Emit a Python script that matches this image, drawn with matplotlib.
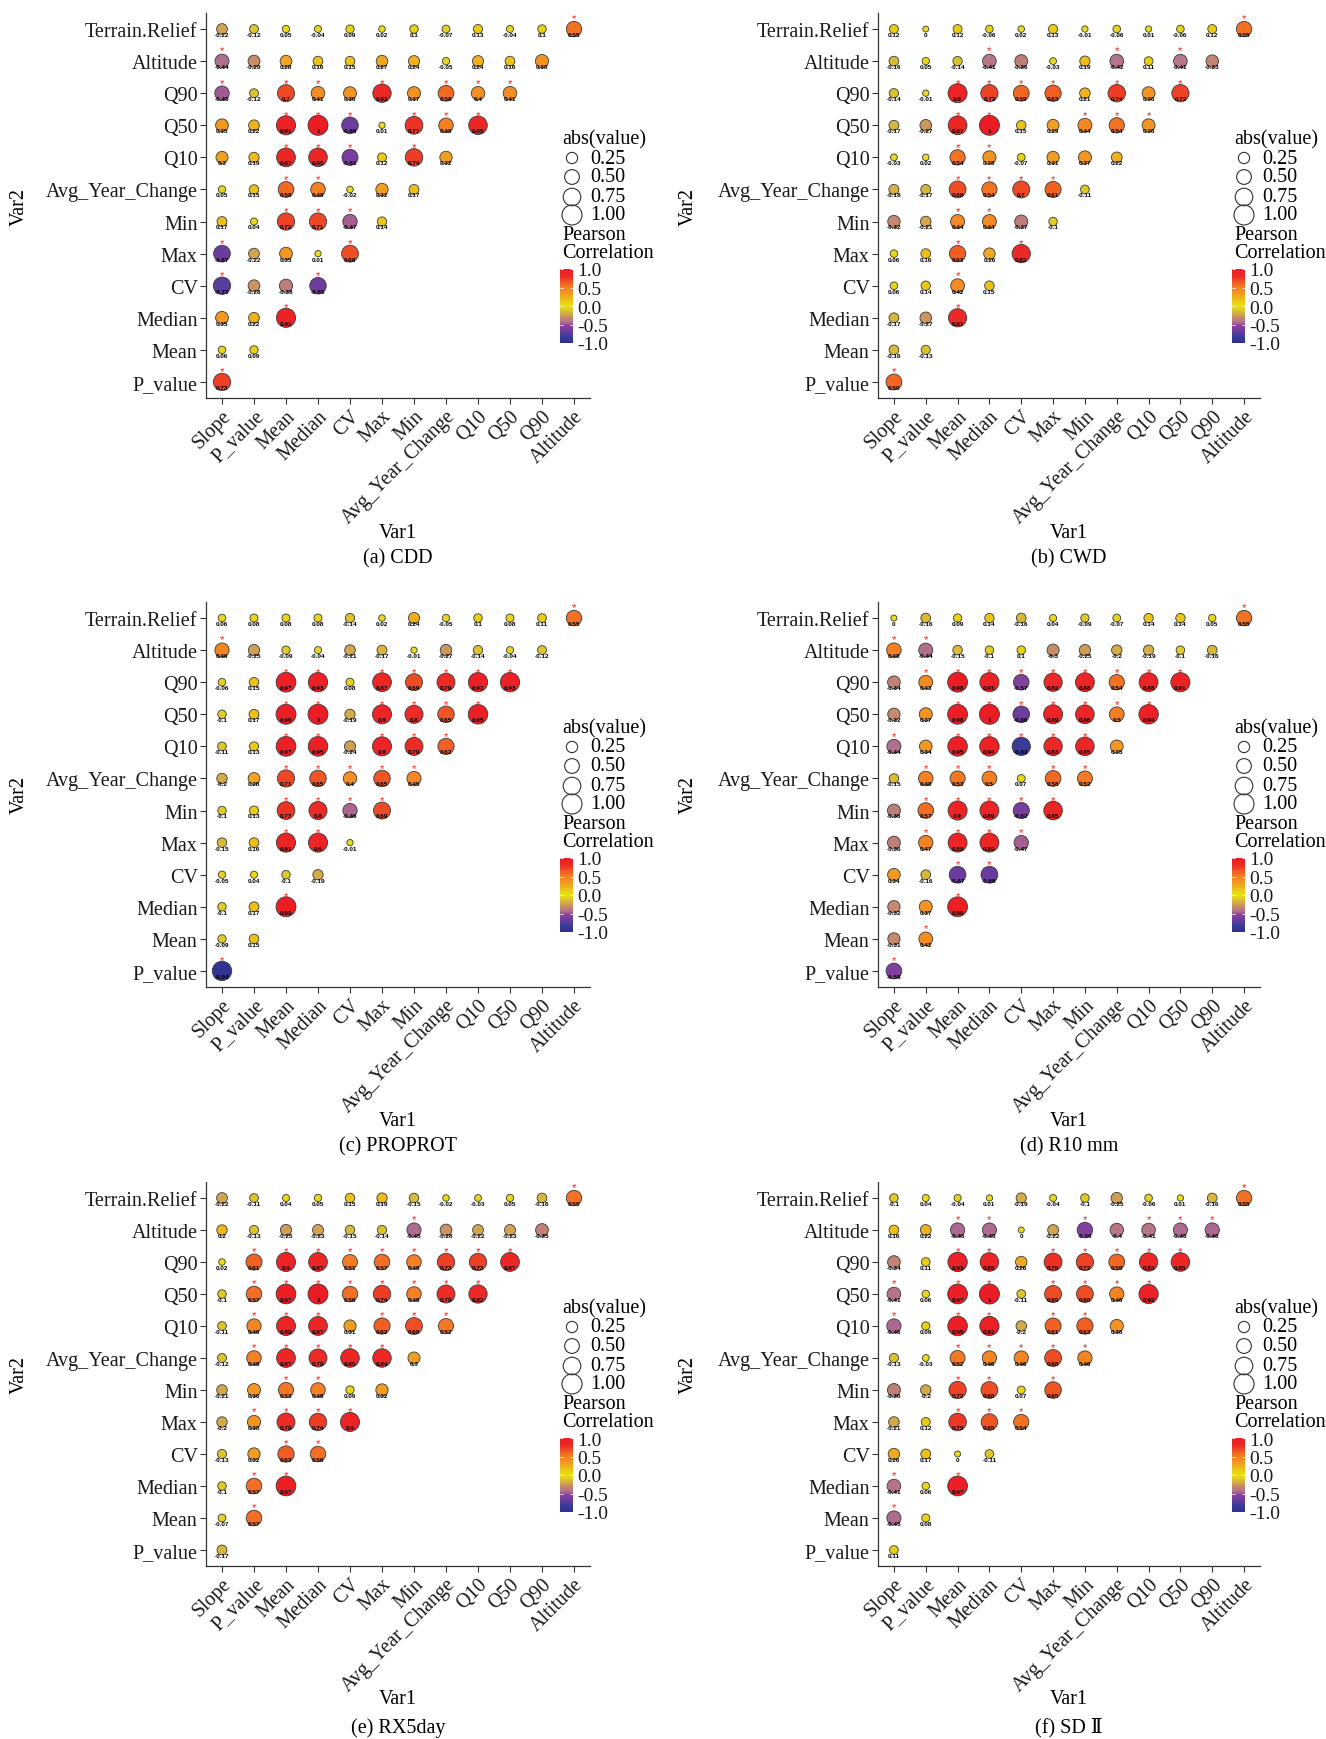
import matplotlib
matplotlib.use("Agg")
import matplotlib.pyplot as plt
from matplotlib.colors import LinearSegmentedColormap, Normalize
from matplotlib.cm import ScalarMappable

W, H = 1326, 1740

var1_labels = ["Slope", "P_value", "Mean", "Median", "CV", "Max", "Min",
               "Avg_Year_Change", "Q10", "Q50", "Q90", "Altitude"]
# bottom to top
var2_labels = ["P_value", "Mean", "Median", "CV", "Max", "Min", "Avg_Year_Change",
               "Q10", "Q50", "Q90", "Altitude", "Terrain.Relief"]

# rows from Terrain.Relief (top) down to P_value, "*" marks significance
cdd_rows = [
    "-0.22 -0.12 0.05 -0.04 0.09 0.02 0.1 -0.07 0.13 -0.04 0.1 0.55*",
    "-0.44* -0.29 0.28 0.16 0.15 0.27 0.24 -0.05 0.24 0.16 0.38",
    "-0.48* -0.12 0.7* 0.41* 0.36 0.83* 0.37 0.58* 0.4* 0.41*",
    "0.35 0.22 0.91* 1* -0.66* 0.01 0.77* 0.48* 0.85*",
    "0.3 0.19 0.87* 0.85* -0.61* 0.12 0.74* 0.32",
    "0.05 0.15 0.58* 0.48* -0.02 0.32 0.17",
    "0.17 0.04 0.72* 0.71* -0.47* 0.14",
    "-0.67* -0.22 0.35 0.01 0.68*",
    "-0.73* -0.28 -0.38 -0.65*",
    "0.35 0.22 0.91*",
    "0.06 0.09",
    "0.73*",
]
cwd_rows = [
    "0.12 0 0.12 -0.06 0.02 0.13 -0.01 -0.06 0.01 -0.06 0.12 0.55*",
    "-0.16 0.05 -0.14 -0.41* -0.36 -0.03 0.19 -0.42* 0.11 -0.41* -0.33",
    "-0.14 -0.01 0.9* 0.72* 0.59* 0.63* 0.21 0.74* 0.36 0.72*",
    "-0.17 -0.27 0.87* 1* 0.15 0.29 0.44* 0.54* 0.36*",
    "-0.03 0.02 0.54* 0.38* -0.07 0.31 0.37 0.22",
    "-0.18 -0.17 0.68* 0.54* 0.7* 0.61* -0.11",
    "-0.32 -0.21 0.44* 0.44* -0.37 -0.1",
    "0.06 0.16 0.63* 0.26 0.82*",
    "0.06 0.14 0.42* 0.15",
    "-0.17 -0.27 0.81*",
    "-0.16 -0.13",
    "0.59*",
]
proprot_rows = [
    "0.06 0.08 0.08 0.08 -0.14 0.02 0.24 -0.05 0.1 0.08 0.11 0.55*",
    "0.46* -0.25 -0.09 -0.04 -0.21 -0.17 -0.01 -0.27 -0.14 -0.04 -0.12",
    "-0.06 0.15 0.97* 0.93* 0.08 0.87* 0.69* 0.79* 0.92* 0.93*",
    "-0.1 0.17 0.99* 1* -0.19 0.9* 0.8* 0.65* 0.95*",
    "-0.11 0.13 0.97* 0.95* -0.24 0.9* 0.79* 0.62*",
    "-0.2 0.28 0.71* 0.65* 0.4* 0.65* 0.45*",
    "-0.1 0.13 0.77* 0.8* -0.46* 0.69*",
    "-0.15 0.16 0.91* 0.9* -0.01",
    "-0.05 0.04 -0.1 -0.19",
    "-0.1 0.17 0.99*",
    "-0.09 0.15",
    "-0.94*",
]
r10mm_rows = [
    "0 -0.16 0.09 0.14 -0.16 0.04 -0.09 -0.07 0.14 0.14 0.05 0.55*",
    "0.48* -0.44* -0.15 -0.1 0.1 -0.3 -0.25 -0.2 -0.19 -0.1 -0.16",
    "-0.34 0.43* 0.98* 0.91* -0.57* 0.82* 0.88* 0.54* 0.88* 0.91*",
    "-0.32 0.37 0.98* 1* -0.66* 0.89* 0.86* 0.5* 0.94*",
    "-0.44* 0.34 0.95* 0.94* -0.82* 0.83* 0.85* 0.35",
    "-0.15 0.48* 0.53* 0.5* 0.07 0.58* 0.52*",
    "-0.36 0.57* 0.9* 0.89* -0.62* 0.85*",
    "-0.36 0.47* 0.89* 0.89* -0.47*",
    "0.34 -0.16 -0.67* -0.68*",
    "-0.32 0.37 0.98*",
    "-0.31 0.42*",
    "-0.58*",
]
rx5day_rows = [
    "-0.22 -0.11 0.04 0.05 0.15 0.19 -0.15 -0.02 -0.03 0.05 -0.16 0.55*",
    "0.2 -0.13 -0.25 -0.23 -0.15 -0.14 -0.45* -0.28 -0.22 -0.23 -0.35",
    "0.02 0.61* 0.9* 0.87* 0.51* 0.57* 0.48* 0.73* 0.73* 0.87*",
    "-0.1 0.57* 0.97* 1* 0.56* 0.74* 0.48* 0.79* 0.82*",
    "-0.11 0.46* 0.89* 0.87* 0.31 0.62* 0.68* 0.52*",
    "-0.12 0.48* 0.87* 0.79* 0.85* 0.84* 0.3",
    "-0.21 0.36 0.53* 0.48* 0.09 0.32",
    "-0.2 0.38* 0.79* 0.74* 0.9*",
    "-0.13 0.32 0.63* 0.56*",
    "-0.1 0.57* 0.97*",
    "-0.07 0.57*",
    "-0.17",
]
sdii_rows = [
    "-0.1 0.04 -0.04 0.01 -0.19 -0.04 -0.1 -0.25 -0.06 0.01 -0.16 0.55*",
    "0.16 0.22 -0.46* -0.45* 0 -0.22 -0.56* -0.4 -0.41* -0.45* -0.46*",
    "-0.34 0.11 0.93* 0.85* 0.26 0.78* 0.72* 0.59* 0.83* 0.85*",
    "-0.41* 0.06 0.97* 1* -0.11 0.69* 0.68* 0.46* 0.92*",
    "-0.46* 0.09 0.95* 0.92* -0.2 0.61* 0.63* 0.38",
    "-0.13 -0.03 0.52* 0.46* 0.46* 0.68* 0.46*",
    "-0.36 -0.2 0.72* 0.68* 0.07 0.65*",
    "-0.21 0.12 0.75* 0.65* 0.54*",
    "0.26 0.17 0 -0.11",
    "-0.41* 0.06 0.97*",
    "-0.45* 0.08",
    "0.11",
]

panels = [
    ("(a) CDD", cdd_rows), ("(b) CWD", cwd_rows),
    ("(c) PROPROT", proprot_rows), ("(d) R10 mm", r10mm_rows),
    ("(e) RX5day", rx5day_rows), ("(f) SD \u2161", sdii_rows),
]

# gradient
cmap = LinearSegmentedColormap.from_list("corr", [
    (0.000, "#2E3192"), (0.090, "#3A3A98"), (0.135, "#5B3B9E"),
    (0.195, "#7B3D9F"), (0.240, "#8A449F"), (0.265, "#A8628F"),
    (0.280, "#B0708F"), (0.320, "#C08078"), (0.350, "#C88B6A"),
    (0.370, "#CC9A5A"), (0.400, "#D4AA48"), (0.430, "#DCC030"),
    (0.500, "#E8E010"), (0.550, "#EAD012"), (0.600, "#ECB81A"),
    (0.650, "#F0A020"), (0.700, "#F49022"), (0.750, "#F57E22"),
    (0.800, "#F26522"), (0.850, "#EE4A25"), (0.900, "#EC2A26"),
    (1.000, "#ED1C24"),
])
norm = Normalize(-1, 1)

plt.rcParams["font.family"] = ["Liberation Serif", "DejaVu Serif"]
SANS = ["Liberation Sans", "DejaVu Sans"]


def bubble_size(a):
    return 2.07 * (9 + 91 * a)


col_x = [(206, 590), (878, 1260)]
row_y = [(14, 399), (603, 988), (1183, 1567)]
var1_y = [533, 1122, 1700]
cap_y = [559, 1147, 1728]
var2_x = [19, 688]

fig = plt.figure(figsize=(W / 100, H / 100), dpi=100)
overlay = []

for i, (caption, rows) in enumerate(panels):
    r, c = divmod(i, 2)
    x0, x1 = col_x[c]
    y0, y1 = row_y[r]
    ax = fig.add_axes([x0 / W, 1 - y1 / H, (x1 - x0) / W, (y1 - y0) / H])

    xs, ys, vals, labels, stars = [], [], [], [], []
    for k, row in enumerate(rows):
        for j, tok in enumerate(row.split()):
            xs.append(j + 1)
            ys.append(12 - k)
            vals.append(float(tok.rstrip("*")))
            labels.append(tok.rstrip("*"))
            stars.append(tok.endswith("*"))

    ax.scatter(xs, ys, s=[bubble_size(abs(v)) for v in vals], c=vals,
               cmap=cmap, norm=norm, edgecolors="#3a3a3a", linewidths=0.6,
               zorder=2)
    for x, y, t, s in zip(xs, ys, labels, stars):
        ax.text(x, y - 0.17, t, ha="center", va="center", fontsize=4.6,
                family=SANS, fontweight="bold", color="black", zorder=3)
        if s:
            ax.text(x, y + 0.33, "*", ha="center", va="center", fontsize=8,
                    family=SANS, color="#ff1a1a", zorder=3)

    ax.set_xlim(0.5, 12.5)
    ax.set_ylim(0.5, 12.5)
    ax.set_xticks(range(1, 13))
    ax.set_xticklabels(var1_labels, rotation=45, ha="right", va="top",
                       rotation_mode="anchor")
    ax.set_yticks(range(1, 13))
    ax.set_yticklabels(var2_labels)
    ax.tick_params(labelsize=14.5, length=4, width=0.8, color="#333333",
                   labelcolor="#1a1a1a", pad=2)
    for side in ("top", "right"):
        ax.spines[side].set_visible(False)
    for side in ("left", "bottom"):
        ax.spines[side].set_color("#333333")
        ax.spines[side].set_linewidth(0.9)

    cx = (x0 + x1) / 2
    fig.text(cx / W, 1 - var1_y[r] / H, "Var1", ha="center", va="center",
             fontsize=14.5)
    fig.text(cx / W, 1 - cap_y[r] / H, caption, ha="center", va="center",
             fontsize=14.5)
    fig.text(var2_x[c] / W, 1 - (y0 + y1) / 2 / H, "Var2", ha="center",
             va="center", rotation=90, fontsize=14.5)

    # colorbar legend
    cax = fig.add_axes([(x0 + 354) / W, 1 - (y0 + 330) / H, 13 / W, 74 / H])
    cb = fig.colorbar(ScalarMappable(norm=norm, cmap=cmap), cax=cax,
                      ticks=[-1, -0.5, 0, 0.5, 1])
    cb.outline.set_visible(False)
    cb.ax.set_yticklabels(["-1.0", "-0.5", "0.0", "0.5", "1.0"])
    cb.ax.tick_params(direction="in", color="white", length=2.5, width=0.6,
                      left=True, right=True, labelsize=14, pad=3,
                      labelcolor="#1a1a1a")
    overlay.append((x0, y0))

ov = fig.add_axes([0, 0, 1, 1])
ov.set_xlim(0, W)
ov.set_ylim(H, 0)
ov.axis("off")
size_breaks = [0.25, 0.50, 0.75, 1.00]
for x0, y0 in overlay:
    ov.text(x0 + 356, y0 + 126, "abs(value)", ha="left", va="center",
            fontsize=14.5)
    for b, dy in zip(size_breaks, [145, 164, 184, 202]):
        ov.scatter([x0 + 366], [y0 + dy], s=bubble_size(b), facecolors="none",
                   edgecolors="#333333", linewidths=0.8)
        ov.text(x0 + 384, y0 + dy, f"{b:.2f}", ha="left", va="center",
                fontsize=14.5)
    ov.text(x0 + 356, y0 + 222, "Pearson", ha="left", va="center",
            fontsize=14.5)
    ov.text(x0 + 356, y0 + 240, "Correlation", ha="left", va="center",
            fontsize=14.5)

fig.savefig("out.png", dpi=100)
